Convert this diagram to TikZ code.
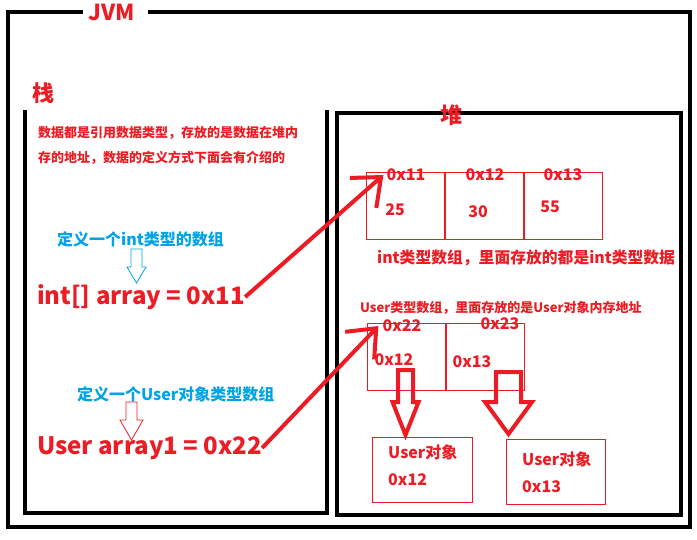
\documentclass[tikz,border=0pt]{standalone}
\usepackage{fontspec}
\setmainfont{Noto Sans CJK SC}
\usetikzlibrary{arrows.meta}
\definecolor{jvmred}{RGB}{237,28,36}
\definecolor{jvmblue}{RGB}{0,162,232}
\tikzset{
  frame/.style={draw=black, line width=4pt},
  cell/.style={draw=jvmred, line width=0.8pt, minimum width=78pt, minimum height=67pt, inner sep=0pt},
  obj/.style={draw=jvmred, line width=0.8pt, inner sep=0pt},
  redtxt/.style={text=jvmred, inner sep=0pt, font=\bfseries\fontsize{#1}{#1}\selectfont},
  bluetxt/.style={text=jvmblue, inner sep=0pt, font=\bfseries\fontsize{#1}{#1}\selectfont},
  link/.style={draw=jvmred, line width=4pt, -{Straight Barb[length=24pt, width=40pt]}}
}
% hollow block arrow: style, x, top, shaft half, head half, head y, tip y
\newcommand\hollowarrow[7]{%
  \draw[#1] ({#2-#4},#3) -- ({#2+#4},#3) -- ({#2+#4},#6) -- ({#2+#5},#6)
    -- (#2,#7) -- ({#2-#5},#6) -- ({#2-#4},#6) -- cycle;}
\begin{document}
\begin{tikzpicture}[x=1pt, y=-1pt]
\useasboundingbox (0,0) rectangle (697,539);
% frames
\draw[frame] (83,12) -- (8,12) -- (8,527) -- (690,527) -- (690,12) -- (148,12);
\draw[frame] (25,110) -- (25,513) -- (327,513) -- (327,110);
\draw[frame] (337,113) rectangle (681,515);
\node[redtxt=22, anchor=base] (jvm) at (112,20) {JVM};
\node[redtxt=22] (stack) at (43,93) {栈};
\node[redtxt=22] (heap) at (451,115) {堆};
% stack
\node[redtxt=13, anchor=west] (note1) at (38,133) {数据都是引用数据类型，存放的是数据在堆内};
\node[redtxt=13, anchor=west] (note2) at (38,158) {存的地址，数据的定义方式下面会有介绍的};
\node[bluetxt=16, anchor=west] (def1) at (57,239) {定义一个int类型的数组};
\hollowarrow{draw=jvmblue, line width=0.8pt}{136.5}{249}{5.5}{9.5}{267}{283}
\node[redtxt=24, anchor=west] (big1) at (37,297) {int[] array = 0x11};
\node[bluetxt=16, anchor=west] (def2) at (77,394) {定义一个User对象类型数组};
\hollowarrow{draw=jvmred, line width=0.8pt}{131.5}{402}{5.5}{11.5}{420}{440}
\node[redtxt=24, anchor=west] (big2) at (37,448) {User array1 = 0x22};
% heap: int array
\node[cell] (c11) at (405.5,205.5) {};
\node[cell] (c12) at (484,205.5) {};
\node[cell] (c13) at (563,205.5) {};
\node[redtxt=16] (l11) at (406,175) {0x11};
\node[redtxt=16] (l12) at (485,175) {0x12};
\node[redtxt=16] (l13) at (563,175) {0x13};
\node[redtxt=16] (v11) at (395,210) {25};
\node[redtxt=16] (v12) at (478,212) {30};
\node[redtxt=16] (v13) at (550,207) {55};
\node[redtxt=15.8, anchor=west] (intnote) at (377,258) {int类型数组，里面存放的都是int类型数据};
% heap: User array
\node[redtxt=13, anchor=west] (usernote) at (360,308) {User类型数组，里面存放的是User对象内存地址};
\node[cell] (c22) at (406,356.5) {};
\node[cell] (c23) at (485.5,356.5) {};
\node[redtxt=16] (l22) at (402,326) {0x22};
\node[redtxt=16] (l23) at (500,324) {0x23};
\node[redtxt=16] (v22) at (394,360) {0x12};
\node[redtxt=16] (v23) at (472,362) {0x13};
\hollowarrow{draw=jvmred, line width=4pt}{405.5}{370}{7.5}{13}{402}{435}
\hollowarrow{draw=jvmred, line width=4pt}{508.5}{372}{12.5}{23.5}{402}{434}
\node[obj, minimum width=100pt, minimum height=65pt] (u12) at (422,469.5) {};
\node[obj, minimum width=99pt, minimum height=65pt] (u13) at (555.5,471.5) {};
\node[redtxt=16, anchor=west] (u12a) at (388,452) {User对象};
\node[redtxt=16, anchor=west] (u12b) at (388,480) {0x12};
\node[redtxt=16, anchor=west] (u13a) at (522,459) {User对象};
\node[redtxt=16, anchor=west] (u13b) at (522,487) {0x13};
% references
\draw[link] (big1.east) -- ([xshift=-3pt]l11.west);
\draw[link] (big2.east) -- ([xshift=-4pt]l22.west);
\end{tikzpicture}
\end{document}
